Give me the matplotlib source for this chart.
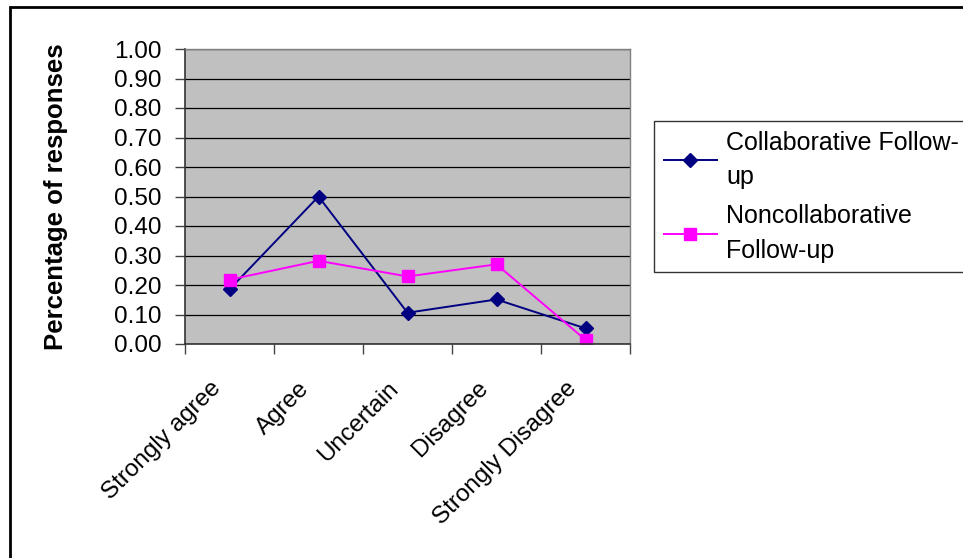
import matplotlib
matplotlib.use("Agg")
import matplotlib.pyplot as plt
from matplotlib.patches import Rectangle
from matplotlib.transforms import ScaledTranslation

categories = ["Strongly agree", "Agree", "Uncertain", "Disagree", "Strongly Disagree"]
collab = [0.185, 0.50, 0.106, 0.151, 0.053]
noncollab = [0.218, 0.282, 0.229, 0.270, 0.014]
series_names = ["Collaborative Follow-\nup", "Noncollaborative\nFollow-up"]
yticks = [0.0, 0.1, 0.2, 0.3, 0.4, 0.5, 0.6, 0.7, 0.8, 0.9, 1.0]

plt.rcParams['font.family'] = ['Liberation Sans', 'DejaVu Sans']

fig = plt.figure(figsize=(9.63, 5.58), dpi=100)
fig.patch.set_facecolor('white')
fig.patches.append(Rectangle((10/963, -0.02), 1.05, 1 - 7/558 + 0.02,
                             transform=fig.transFigure, fill=False,
                             edgecolor='black', linewidth=2))

ax = fig.add_axes([185/963, 1 - 344/558, (630-185)/963, (344-49)/558])
ax.set_facecolor('#c0c0c0')
x = list(range(len(categories)))
ax.plot(x, collab, color='#000080', marker='D', markersize=7.5, linewidth=1.4,
        label=series_names[0])
ax.plot(x, noncollab, color='#ff00ff', marker='s', markersize=8.5, linewidth=1.4,
        label=series_names[1])

ax.set_xlim(-0.5, len(categories) - 0.5)
ax.set_ylim(0, 1.0)
ax.set_yticks(yticks)
ax.set_yticklabels([f"{v:.2f}" for v in yticks], fontsize=17.5)
ax.yaxis.grid(True, color='black', linewidth=0.9)
ax.set_axisbelow(True)

ax.set_xticks([i - 0.5 for i in range(len(categories) + 1)])
ax.set_xticklabels([])
ax.set_xticks(x, minor=True)
ax.set_xticklabels(categories, minor=True, rotation=45, ha='right', va='top',
                   rotation_mode='anchor', fontsize=17.5)
ax.tick_params(axis='x', which='minor', length=0, pad=24)
ax.tick_params(axis='x', which='major', length=7, direction='out', width=1, color='#444444')
ax.tick_params(axis='y', length=7, direction='out', width=1, color='#444444', pad=10)

shift = ScaledTranslation(-20 / 100.0, 0, fig.dpi_scale_trans)
for lbl in ax.get_xticklabels(minor=True):
    lbl.set_transform(lbl.get_transform() + shift)

for side in ['top', 'right']:
    ax.spines[side].set_color('#808080')
    ax.spines[side].set_linewidth(1)
for side in ['left', 'bottom']:
    ax.spines[side].set_color('#333333')
    ax.spines[side].set_linewidth(1.2)

ax.set_ylabel("Percentage of responses", fontsize=18.5, fontweight='bold', labelpad=33)

leg = fig.legend(loc='upper left', bbox_to_anchor=(654/963, 0, 0.4, 1 - 121/558),
                 mode='expand', fontsize=18, frameon=True, fancybox=False,
                 borderpad=0.38, handlelength=2.15, labelspacing=0.62, handletextpad=0.35,
                 borderaxespad=0)
leg.get_frame().set_edgecolor('black')
leg.get_frame().set_linewidth(1)
for t in leg.get_texts():
    t.set_linespacing(1.55)

fig.savefig("out.png", dpi=100, facecolor='white')
